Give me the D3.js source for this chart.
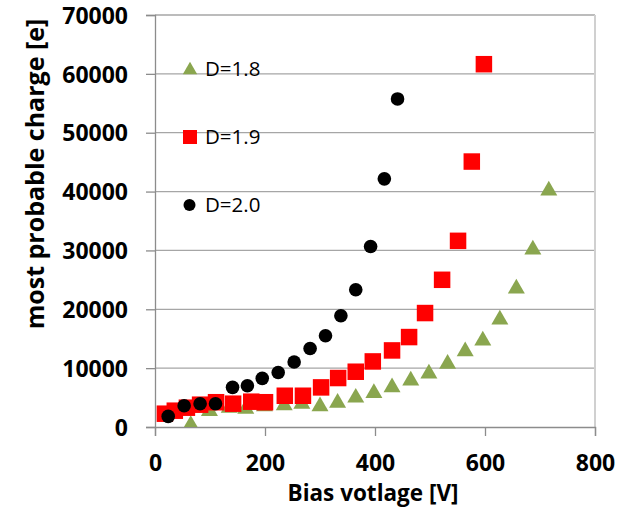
<!DOCTYPE html>
<html>
<head>
<meta charset="utf-8">
<script src="https://cdn.jsdelivr.net/npm/d3@7"></script>
<style>
  body { margin: 0; background: #fff; }
  svg { display: block; }
</style>
</head>
<body>
<svg></svg>
<script>
// Series: bias voltage [V] and most probable charge [e]
const d18Volt = [65, 99, 135, 165, 199, 235, 267, 300, 332, 365, 398, 431, 465, 498, 532, 564, 596, 627, 657, 687, 716];
const d18Charge = [600, 2950, 3530, 3360, 3750, 3920, 4200, 3780, 4380, 5230, 6030, 7010, 8150, 9340, 10970, 13120, 14940, 18510, 23770, 30390, 40430];

const d19Volt = [18, 36, 58, 82, 111, 142, 175, 200, 236, 269, 302, 333, 365, 396, 431, 462, 491, 522, 551, 576, 598];
const d19Charge = [2260, 2770, 3280, 3790, 4210, 3960, 4300, 4210, 5310, 5310, 6730, 8320, 9390, 11140, 13010, 15280, 19360, 25010, 31630, 45100, 61640];

const d20Volt = [24, 53, 82, 110, 141, 168, 195, 224, 253, 282, 310, 338, 365, 392, 417, 441];
const d20Charge = [1800, 3620, 3960, 3960, 6740, 7000, 8270, 9270, 11040, 13340, 15500, 18900, 23310, 30670, 42160, 55740];

const seriesNames = ["D=1.8", "D=1.9", "D=2.0"];
const xTicks = [0, 200, 400, 600, 800];
const yTicks = [0, 10000, 20000, 30000, 40000, 50000, 60000, 70000];

const W = 629, H = 508;
const margin = { top: 15, right: 34, bottom: 81, left: 155 };
const width = W - margin.left - margin.right,
      height = H - margin.top - margin.bottom;

const svg = d3.select("svg")
  .attr("width", W)
  .attr("height", H);

const g = svg.append("g")
  .attr("transform", `translate(${margin.left},${margin.top})`);

const x = d3.scaleLinear().domain([0, 800]).range([0, width]);
const y = d3.scaleLinear().domain([0, 70000]).range([height, 0]);

const font = "'Open Sans', 'Liberation Sans', sans-serif";

// horizontal gridlines
g.selectAll("line.grid")
  .data(yTicks.slice(1))
  .enter().append("line")
  .attr("class", "grid")
  .attr("x1", 0).attr("x2", width)
  .attr("y1", d => y(d)).attr("y2", d => y(d))
  .attr("stroke", "#a6a6a6").attr("stroke-width", 1.3);

// right border of the plot area
g.append("line")
  .attr("x1", width).attr("x2", width)
  .attr("y1", 0).attr("y2", height)
  .attr("stroke", "#d0d0d0").attr("stroke-width", 2);

// axes
const yAxis = g.append("g")
  .call(d3.axisLeft(y).tickValues(yTicks).tickSize(9).tickPadding(18).tickFormat(d3.format("d")));
const xAxis = g.append("g")
  .attr("transform", `translate(0,${height})`)
  .call(d3.axisBottom(x).tickValues(xTicks).tickSize(9).tickPadding(19).tickFormat(d3.format("d")));

[yAxis, xAxis].forEach(a => {
  a.selectAll(".domain").attr("stroke", "#8c8c8c").attr("stroke-width", 1.3);
  a.selectAll(".tick line").attr("stroke", "#8c8c8c").attr("stroke-width", 1.3);
  a.selectAll("text")
    .attr("fill", "#000")
    .style("font-family", font)
    .style("font-weight", "bold")
    .style("font-size", "23px");
});
yAxis.selectAll("text").attr("dy", "0.36em");

// clip markers at the plot area
g.append("clipPath").attr("id", "plot")
  .append("rect").attr("x", -20).attr("y", -20).attr("width", width + 40).attr("height", height + 20);

const marks = g.append("g").attr("clip-path", "url(#plot)");

const triPath = d3.symbol().type(d3.symbolTriangle).size(125)();

// D=1.8 triangles
marks.selectAll("path.d18")
  .data(d18Volt.map((v, i) => [v, d18Charge[i]]))
  .enter().append("path")
  .attr("class", "d18")
  .attr("d", triPath)
  .attr("transform", d => `translate(${x(d[0])},${y(d[1]) + 1.5})`)
  .attr("fill", "#8aa64f");

// D=1.9 squares
const sq = 16.5;
marks.selectAll("rect.d19")
  .data(d19Volt.map((v, i) => [v, d19Charge[i]]))
  .enter().append("rect")
  .attr("class", "d19")
  .attr("x", d => x(d[0]) - sq / 2)
  .attr("y", d => y(d[1]) - sq / 2)
  .attr("width", sq).attr("height", sq)
  .attr("fill", "#ff0000");

// D=2.0 circles
marks.selectAll("circle.d20")
  .data(d20Volt.map((v, i) => [v, d20Charge[i]]))
  .enter().append("circle")
  .attr("class", "d20")
  .attr("cx", d => x(d[0]))
  .attr("cy", d => y(d[1]))
  .attr("r", 6.8)
  .attr("fill", "#000");

// in-plot legend
const legY = [69, 137, 205];
const leg = svg.append("g");
leg.append("path")
  .attr("d", d3.symbol().type(d3.symbolTriangle).size(90)())
  .attr("transform", `translate(190,${legY[0] + 1})`)
  .attr("fill", "#8aa64f");
leg.append("rect")
  .attr("x", 183).attr("y", legY[1] - 7)
  .attr("width", 14).attr("height", 14)
  .attr("fill", "#ff0000");
leg.append("circle")
  .attr("cx", 189.5).attr("cy", legY[2])
  .attr("r", 6)
  .attr("fill", "#000");
leg.selectAll("text")
  .data(seriesNames)
  .enter().append("text")
  .attr("x", 205)
  .attr("y", (d, i) => legY[i] + 7)
  .style("font-family", font)
  .style("font-size", "20.5px")
  .attr("fill", "#000")
  .text(d => d);

// axis titles
svg.append("text")
  .attr("x", margin.left + width / 2 - 2)
  .attr("y", 501)
  .attr("text-anchor", "middle")
  .style("font-family", font)
  .style("font-weight", "bold")
  .style("font-size", "22.5px")
  .text("Bias votlage [V]");

svg.append("text")
  .attr("transform", "translate(44,174) rotate(-90)")
  .attr("text-anchor", "middle")
  .style("font-family", font)
  .style("font-weight", "bold")
  .style("font-size", "25px")
  .text("most probable charge [e]");
</script>
</body>
</html>
